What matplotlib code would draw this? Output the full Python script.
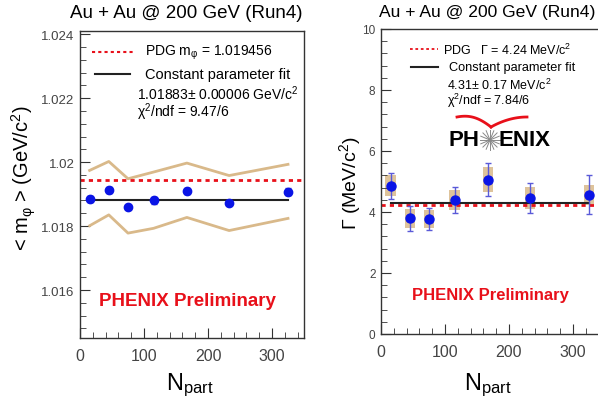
import numpy as np
import matplotlib
matplotlib.use("Agg")
import matplotlib.pyplot as plt
from matplotlib.lines import Line2D

plt.rcParams['font.family'] = ['Liberation Sans', 'DejaVu Sans']
plt.rcParams['mathtext.fontset'] = 'custom'
plt.rcParams['mathtext.rm'] = 'Liberation Sans'
plt.rcParams['mathtext.it'] = 'Liberation Sans:italic'
plt.rcParams['mathtext.bf'] = 'Liberation Sans:bold'

# donnees
npart = [15, 45, 75, 115, 167, 233, 325]

# panneau gauche : masse moyenne du phi
masse = [1.01884, 1.01912, 1.01860, 1.01880, 1.01910, 1.01873, 1.01907]
masse_err = [0.00010, 0.00010, 0.00006, 0.00010, 0.00010, 0.00008, 0.00011]
masse_sys_haut = [1.01974, 1.02002, 1.01948, 1.01969, 1.01997, 1.01958, 1.01993]
masse_sys_bas = [1.01801, 1.01835, 1.01778, 1.01793, 1.01827, 1.01786, 1.01824]
masse_pdg = 1.019456
masse_fit = 1.01883

# panneau droit : largeur Gamma
largeur = [4.86, 3.79, 3.77, 4.39, 5.06, 4.46, 4.57]
largeur_err = [0.42, 0.41, 0.35, 0.43, 0.55, 0.50, 0.63]
largeur_sys = [0.35, 0.30, 0.30, 0.33, 0.40, 0.35, 0.33]
largeur_pdg = 4.24
largeur_fit = 4.31

W, H = 598, 410
fig = plt.figure(figsize=(W / 100, H / 100), dpi=100)

tan = '#d9b98a'
bleu = '#0a14e6'
rouge = '#e8101a'


def style_axes(ax, ytaille):
    for s in ax.spines.values():
        s.set_color('#333333')
        s.set_linewidth(1.0)
    ax.tick_params(which='both', direction='in', top=False, right=False,
                   colors='#333333', labelcolor='#444444')
    ax.tick_params(which='major', length=7)
    ax.tick_params(which='minor', length=4)
    ax.tick_params(axis='x', which='major', pad=7, labelsize=11.5)
    ax.tick_params(axis='y', which='major', pad=4, labelsize=ytaille)


# ---- panneau gauche ----
ax1 = fig.add_axes([80 / W, 1 - 339 / H, 224 / W, 307 / H])
style_axes(ax1, 9.5)
ax1.plot(npart, masse_sys_haut, color=tan, lw=2)
ax1.plot(npart, masse_sys_bas, color=tan, lw=2)
ax1.axhline(masse_pdg, color=rouge, ls=(0, (1.5, 1.5)), lw=2)
ax1.plot([npart[0], npart[-1]], [masse_fit, masse_fit], color='#222222', lw=1.5)
ax1.errorbar(npart, masse, yerr=masse_err, fmt='o', color=bleu, ms=6,
             ecolor='#3a3ad0', elinewidth=1, capsize=2, zorder=5)
ax1.set_xlim(0, 350)
ax1.set_ylim(1.0145, 1.0241)
ax1.set_xticks([0, 100, 200, 300])
ax1.set_xticks(np.arange(0, 351, 20), minor=True)
ax1.set_yticks([1.016, 1.018, 1.020, 1.022, 1.024])
ax1.set_yticklabels(['1.016', '1.018', '1.02', '1.022', '1.024'])
ax1.set_yticks(np.arange(1.0148, 1.0241, 0.0004), minor=True)

# legende gauche
ax1.add_line(Line2D([92 / W, 133 / W], [1 - 53 / H] * 2, transform=fig.transFigure,
                    color=rouge, ls=(0, (1.5, 1.5)), lw=1.5))
ax1.add_line(Line2D([95 / W, 130 / W], [1 - 75 / H] * 2, transform=fig.transFigure,
                    color='#222222', lw=1.5))
fig.text(145 / W, 1 - 53 / H, 'PDG m$_{\\mathrm{φ}}$ = 1.019456', fontsize=10, va='center')
fig.text(145 / W, 1 - 75 / H, 'Constant parameter fit', fontsize=10.5, va='center')
fig.text(137 / W, 1 - 94 / H, '1.01883± 0.00006 GeV/c$^2$', fontsize=10, va='center')
fig.text(137 / W, 1 - 112 / H, 'χ$^2$/ndf = 9.47/6', fontsize=10, va='center')
fig.text(187 / W, 1 - 302 / H, 'PHENIX Preliminary', fontsize=13.5, fontweight='bold',
         color=rouge, ha='center', va='center')

fig.text(186 / W, 1 - 13 / H, 'Au + Au @ 200 GeV (Run4)', fontsize=13.5, ha='center', va='center')
fig.text(24 / W, 1 - 178 / H, '< m$_{\\mathrm{φ}}$ > (GeV/c$^2$)', fontsize=14.5, rotation=90,
         ha='center', va='center')
fig.text(190 / W, 1 - 385 / H, r'N$_{\rm part}$', fontsize=17, ha='center', va='center')

# ---- panneau droit ----
ax2 = fig.add_axes([381 / W, 1 - 335 / H, 224 / W, 305 / H])
style_axes(ax2, 8.5)
for x, y, s in zip(npart, largeur, largeur_sys):
    ax2.add_patch(plt.Rectangle((x - 8, y - s), 16, 2 * s, color=tan, alpha=0.85, lw=0))
ax2.axhline(largeur_pdg, color=rouge, ls=(0, (1.5, 1.5)), lw=2)
ax2.plot([npart[0], npart[-1]], [largeur_fit, largeur_fit], color='#222222', lw=1.5)
ax2.errorbar(npart, largeur, yerr=largeur_err, fmt='o', color=bleu, ms=6.5,
             ecolor='#5a5ad8', elinewidth=1, capsize=2, zorder=5)
ax2.set_xlim(0, 350)
ax2.set_ylim(0, 10)
ax2.set_xticks([0, 100, 200, 300])
ax2.set_xticks(np.arange(0, 351, 20), minor=True)
ax2.set_yticks([0, 2, 4, 6, 8, 10])
ax2.set_yticks(np.arange(0, 10.01, 0.4), minor=True)

ax2.add_line(Line2D([410 / W, 438 / W], [1 - 50 / H] * 2, transform=fig.transFigure,
                    color=rouge, ls=(0, (1.5, 1.5)), lw=1.3))
ax2.add_line(Line2D([411 / W, 438 / W], [1 - 68 / H] * 2, transform=fig.transFigure,
                    color='#222222', lw=1.5))
fig.text(443 / W, 1 - 50 / H, 'PDG   Γ = 4.24 MeV/c$^2$', fontsize=9, va='center')
fig.text(449 / W, 1 - 68 / H, 'Constant parameter fit', fontsize=9.2, va='center')
fig.text(447 / W, 1 - 85 / H, '4.31± 0.17 MeV/c$^2$', fontsize=9, va='center')
fig.text(447 / W, 1 - 101 / H, 'χ$^2$/ndf = 7.84/6', fontsize=9, va='center')
fig.text(490 / W, 1 - 296 / H, 'PHENIX Preliminary', fontsize=12, fontweight='bold',
         color=rouge, ha='center', va='center')

# logo PHENIX
fig.text(479 / W, 1 - 141 / H, 'PH', fontsize=16, fontweight='bold', ha='right', va='center')
fig.text(499 / W, 1 - 141 / H, 'ENIX', fontsize=16, fontweight='bold', ha='left', va='center')
cx, cy = 490, 141
for a in np.linspace(0, np.pi, 8, endpoint=False):
    dx, dy = 10 * np.cos(a), 10 * np.sin(a)
    fig.add_artist(Line2D([(cx - dx) / W, (cx + dx) / W], [1 - (cy - dy) / H, 1 - (cy + dy) / H],
                          transform=fig.transFigure, color='#888888', lw=0.7))
t = np.linspace(0, 1, 30)
xg = 457 + 34 * t
yg = 118 + 10 * t ** 2 - 2 * np.sin(np.pi * t)
xd = 491 + 36 * t
yd = 128 - 10 * (2 * t - t ** 2)
fig.add_artist(Line2D(xg / W, 1 - yg / H, transform=fig.transFigure, color=rouge, lw=2))
fig.add_artist(Line2D(xd / W, 1 - yd / H, transform=fig.transFigure, color=rouge, lw=2))

fig.text(487 / W, 1 - 12 / H, 'Au + Au @ 200 GeV (Run4)', fontsize=12.6, ha='center', va='center')
fig.text(350 / W, 1 - 183 / H, 'Γ (MeV/c$^2$)', fontsize=14, rotation=90,
         ha='center', va='center')
fig.text(488 / W, 1 - 385 / H, r'N$_{\rm part}$', fontsize=17, ha='center', va='center')

fig.savefig('out.png', dpi=100)
